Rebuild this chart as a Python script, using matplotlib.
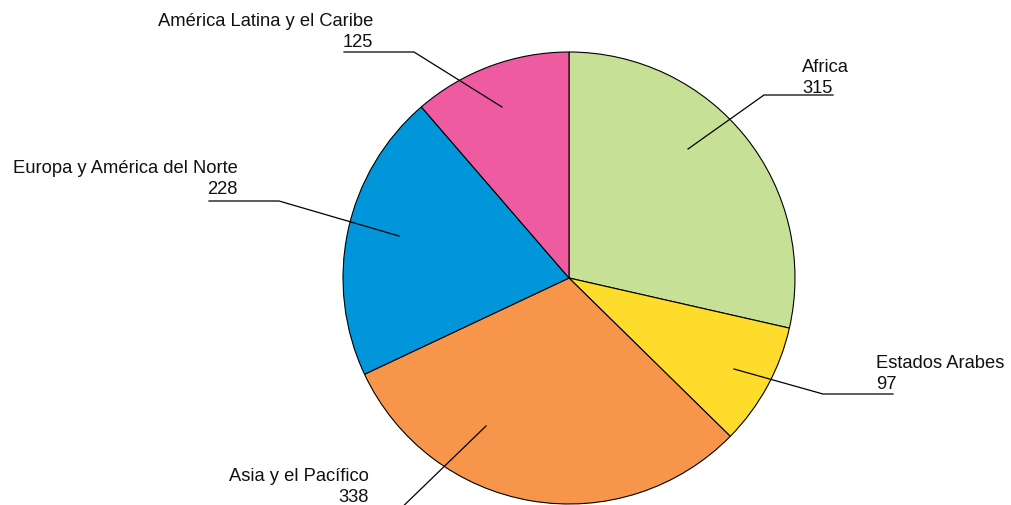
import matplotlib.pyplot as plt

plt.rcParams['font.family'] = ['Liberation Sans', 'DejaVu Sans']

regions = ['Africa', 'Estados Arabes', 'Asia y el Pacífico',
           'Europa y América del Norte', 'América Latina y el Caribe']
values = [315, 97, 338, 228, 125]
colors = ['#c6e096', '#fedc2b', '#f7964a', '#0096d9', '#ee5ba1']

# label layout in pixel coords (y down): inner point, elbow, line end, text anchor, alignment
layout = {
    'Africa': ((688, 150), (764, 96), (833, 96), (802, 93), 'left'),
    'Estados Arabes': ((734, 370), (823, 395), (893, 395), (876, 389), 'left'),
    'Asia y el Pacífico': ((486, 427), (392, 518), (392, 518), (369, 502), 'right'),
    'Europa y América del Norte': ((399, 237), (279, 202), (209, 202), (238, 194), 'right'),
    'América Latina y el Caribe': ((502, 108), (414, 53), (344, 53), (373, 47), 'right'),
}

W, H = 1012, 506
fig = plt.figure(figsize=(W / 100, H / 100), dpi=100)
ax = fig.add_axes([0, 0, 1, 1])

ax.pie(values, colors=colors, startangle=90, counterclock=False,
       center=(569, H - 279), radius=226, frame=True,
       wedgeprops=dict(edgecolor='black', linewidth=0.8))

for name, val in zip(regions, values):
    p_in, p_elb, p_end, p_txt, ha = layout[name]
    xs = [p_in[0], p_elb[0], p_end[0]]
    ys = [H - p_in[1], H - p_elb[1], H - p_end[1]]
    ax.plot(xs, ys, color='black', linewidth=0.9, clip_on=True)
    ax.text(p_txt[0], H - p_txt[1], name + '\n' + str(val), ha=ha, va='baseline',
            multialignment=ha, fontsize=13.2, linespacing=1.28, color='#111111')

ax.set_xlim(0, W)
ax.set_ylim(0, H)
ax.set_aspect('equal')
ax.axis('off')

plt.savefig('out.png', dpi=100)
